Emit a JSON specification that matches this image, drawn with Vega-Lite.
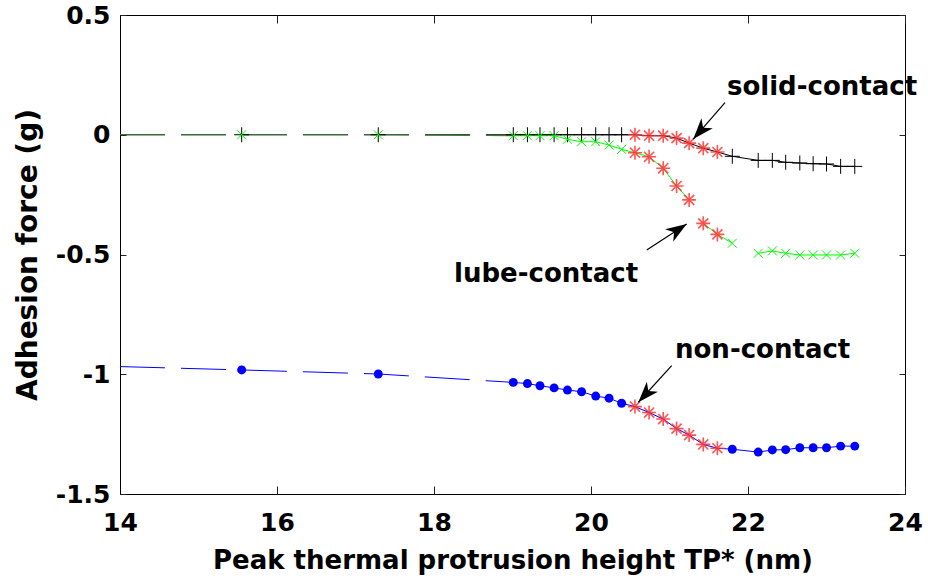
{
  "$schema": "https://vega.github.io/schema/vega-lite/v6.json",
  "width": 785,
  "height": 479,
  "autosize": "none",
  "padding": {"left": 120, "top": 15, "right": 23, "bottom": 87},
  "background": "white",
  "config": {
    "view": {"stroke": "#000000", "strokeWidth": 1},
    "font": "DejaVu Sans",
    "axis": {
      "labelFont": "DejaVu Sans", "labelFontWeight": "bold", "labelColor": "#000000",
      "titleFont": "DejaVu Sans", "titleFontWeight": "bold", "titleColor": "#000000",
      "domainColor": "#000000", "tickColor": "#222222", "grid": false,
      "labelFlush": false, "labelOverlap": false
    }
  },
  "datasets": {
    "pts": [
      {"s": "solid", "x": 15.55, "y": 0, "seg": 0, "m": "mk"},
      {"s": "solid", "x": 17.29, "y": 0, "seg": 0, "m": "mk"},
      {"s": "solid", "x": 19.01, "y": 0, "seg": 1, "m": "mk"},
      {"s": "solid", "x": 19.19, "y": 0, "seg": 1, "m": "mk"},
      {"s": "solid", "x": 19.35, "y": 0, "seg": 1, "m": "mk"},
      {"s": "solid", "x": 19.53, "y": 0, "seg": 1, "m": "mk"},
      {"s": "solid", "x": 19.70, "y": 0, "seg": 1, "m": "mk"},
      {"s": "solid", "x": 19.88, "y": 0, "seg": 1, "m": "mk"},
      {"s": "solid", "x": 20.06, "y": 0, "seg": 1, "m": "mk"},
      {"s": "solid", "x": 20.23, "y": 0, "seg": 1, "m": "mk"},
      {"s": "solid", "x": 20.39, "y": 0, "seg": 1, "m": "mk"},
      {"s": "solid", "x": 20.56, "y": 0, "seg": 1, "m": "star"},
      {"s": "solid", "x": 20.74, "y": -0.004, "seg": 1, "m": "star"},
      {"s": "solid", "x": 20.92, "y": -0.004, "seg": 1, "m": "star"},
      {"s": "solid", "x": 21.09, "y": -0.014, "seg": 1, "m": "star"},
      {"s": "solid", "x": 21.25, "y": -0.035, "seg": 1, "m": "star"},
      {"s": "solid", "x": 21.43, "y": -0.056, "seg": 1, "m": "star"},
      {"s": "solid", "x": 21.61, "y": -0.072, "seg": 1, "m": "star"},
      {"s": "solid", "x": 21.80, "y": -0.090, "seg": 1, "m": "mk"},
      {"s": "solid", "x": 22.13, "y": -0.107, "seg": 1, "m": "mk"},
      {"s": "solid", "x": 22.31, "y": -0.107, "seg": 1, "m": "mk"},
      {"s": "solid", "x": 22.48, "y": -0.115, "seg": 1, "m": "mk"},
      {"s": "solid", "x": 22.66, "y": -0.118, "seg": 1, "m": "mk"},
      {"s": "solid", "x": 22.83, "y": -0.121, "seg": 1, "m": "mk"},
      {"s": "solid", "x": 23.00, "y": -0.122, "seg": 1, "m": "mk"},
      {"s": "solid", "x": 23.18, "y": -0.132, "seg": 1, "m": "mk"},
      {"s": "solid", "x": 23.36, "y": -0.132, "seg": 1, "m": "mk"},
      {"s": "lube", "x": 15.55, "y": 0, "seg": 0, "m": "mk"},
      {"s": "lube", "x": 17.29, "y": 0, "seg": 0, "m": "mk"},
      {"s": "lube", "x": 19.01, "y": -0.004, "seg": 1, "m": "mk"},
      {"s": "lube", "x": 19.19, "y": -0.004, "seg": 1, "m": "mk"},
      {"s": "lube", "x": 19.35, "y": -0.004, "seg": 1, "m": "mk"},
      {"s": "lube", "x": 19.53, "y": -0.004, "seg": 1, "m": "mk"},
      {"s": "lube", "x": 19.70, "y": -0.019, "seg": 1, "m": "mk"},
      {"s": "lube", "x": 19.88, "y": -0.029, "seg": 1, "m": "mk"},
      {"s": "lube", "x": 20.06, "y": -0.029, "seg": 1, "m": "mk"},
      {"s": "lube", "x": 20.23, "y": -0.043, "seg": 1, "m": "mk"},
      {"s": "lube", "x": 20.39, "y": -0.061, "seg": 1, "m": "mk"},
      {"s": "lube", "x": 20.56, "y": -0.075, "seg": 1, "m": "star"},
      {"s": "lube", "x": 20.74, "y": -0.092, "seg": 1, "m": "star"},
      {"s": "lube", "x": 20.92, "y": -0.140, "seg": 1, "m": "star"},
      {"s": "lube", "x": 21.09, "y": -0.214, "seg": 1, "m": "star"},
      {"s": "lube", "x": 21.25, "y": -0.272, "seg": 1, "m": "star"},
      {"s": "lube", "x": 21.43, "y": -0.370, "seg": 2, "m": "star"},
      {"s": "lube", "x": 21.61, "y": -0.416, "seg": 2, "m": "star"},
      {"s": "lube", "x": 21.80, "y": -0.453, "seg": 2, "m": "mk"},
      {"s": "lube", "x": 22.13, "y": -0.495, "seg": 3, "m": "mk"},
      {"s": "lube", "x": 22.31, "y": -0.485, "seg": 3, "m": "mk"},
      {"s": "lube", "x": 22.48, "y": -0.495, "seg": 3, "m": "mk"},
      {"s": "lube", "x": 22.66, "y": -0.502, "seg": 3, "m": "mk"},
      {"s": "lube", "x": 22.83, "y": -0.502, "seg": 3, "m": "mk"},
      {"s": "lube", "x": 23.00, "y": -0.502, "seg": 3, "m": "mk"},
      {"s": "lube", "x": 23.18, "y": -0.502, "seg": 3, "m": "mk"},
      {"s": "lube", "x": 23.36, "y": -0.495, "seg": 3, "m": "mk"},
      {"s": "non", "x": 15.55, "y": -0.982, "seg": 0, "m": "mk"},
      {"s": "non", "x": 17.29, "y": -0.999, "seg": 0, "m": "mk"},
      {"s": "non", "x": 19.01, "y": -1.034, "seg": 1, "m": "mk"},
      {"s": "non", "x": 19.19, "y": -1.039, "seg": 1, "m": "mk"},
      {"s": "non", "x": 19.35, "y": -1.048, "seg": 1, "m": "mk"},
      {"s": "non", "x": 19.53, "y": -1.057, "seg": 1, "m": "mk"},
      {"s": "non", "x": 19.70, "y": -1.066, "seg": 1, "m": "mk"},
      {"s": "non", "x": 19.88, "y": -1.073, "seg": 1, "m": "mk"},
      {"s": "non", "x": 20.06, "y": -1.091, "seg": 1, "m": "mk"},
      {"s": "non", "x": 20.23, "y": -1.100, "seg": 1, "m": "mk"},
      {"s": "non", "x": 20.39, "y": -1.121, "seg": 1, "m": "mk"},
      {"s": "non", "x": 20.56, "y": -1.135, "seg": 1, "m": "star"},
      {"s": "non", "x": 20.74, "y": -1.160, "seg": 1, "m": "star"},
      {"s": "non", "x": 20.92, "y": -1.187, "seg": 1, "m": "star"},
      {"s": "non", "x": 21.09, "y": -1.227, "seg": 1, "m": "star"},
      {"s": "non", "x": 21.25, "y": -1.254, "seg": 1, "m": "star"},
      {"s": "non", "x": 21.43, "y": -1.293, "seg": 1, "m": "star"},
      {"s": "non", "x": 21.61, "y": -1.309, "seg": 1, "m": "star"},
      {"s": "non", "x": 21.80, "y": -1.313, "seg": 1, "m": "mk"},
      {"s": "non", "x": 22.13, "y": -1.325, "seg": 1, "m": "mk"},
      {"s": "non", "x": 22.31, "y": -1.316, "seg": 1, "m": "mk"},
      {"s": "non", "x": 22.48, "y": -1.315, "seg": 1, "m": "mk"},
      {"s": "non", "x": 22.66, "y": -1.307, "seg": 1, "m": "mk"},
      {"s": "non", "x": 22.83, "y": -1.307, "seg": 1, "m": "mk"},
      {"s": "non", "x": 23.00, "y": -1.307, "seg": 1, "m": "mk"},
      {"s": "non", "x": 23.18, "y": -1.300, "seg": 1, "m": "mk"},
      {"s": "non", "x": 23.36, "y": -1.300, "seg": 1, "m": "mk"}
    ],
    "dash": [
      {"s": "solid", "x": 14, "y": 0},
      {"s": "solid", "x": 15.55, "y": 0},
      {"s": "solid", "x": 17.29, "y": 0},
      {"s": "solid", "x": 19.01, "y": 0},
      {"s": "lube", "x": 14, "y": 0},
      {"s": "lube", "x": 15.55, "y": 0},
      {"s": "lube", "x": 17.29, "y": 0},
      {"s": "lube", "x": 19.01, "y": -0.004},
      {"s": "non", "x": 14, "y": -0.968},
      {"s": "non", "x": 15.55, "y": -0.982},
      {"s": "non", "x": 17.29, "y": -0.999},
      {"s": "non", "x": 19.01, "y": -1.034}
    ],
    "arrows": [
      {"x": 21.707, "y": 0.134, "x2": 21.303, "y2": -0.018, "a": 221},
      {"x": 20.710, "y": -0.481, "x2": 21.219, "y2": -0.373, "a": 57},
      {"x": 21.028, "y": -0.964, "x2": 20.603, "y2": -1.117, "a": 222}
    ],
    "labels": [
      {"x": 21.732, "y": 0.166, "t": "solid-contact"},
      {"x": 18.255, "y": -0.6136, "t": "lube-contact"},
      {"x": 21.070, "y": -0.9335, "t": "non-contact"}
    ]
  },
  "layer": [
    {
      "encoding": {
        "x": {
          "field": "x", "type": "quantitative",
          "scale": {"domain": [14, 24], "nice": false, "zero": false},
          "axis": {
            "orient": "bottom", "values": [14, 16, 18, 20, 22, 24],
            "title": "Peak thermal protrusion height TP* (nm)",
            "labelFontSize": 25, "titleFontSize": 26,
            "tickSize": -8, "labelPadding": 24, "titlePadding": 12
          }
        },
        "y": {
          "field": "y", "type": "quantitative",
          "scale": {"domain": [-1.5, 0.5], "nice": false, "zero": false},
          "axis": {
            "orient": "left", "values": [-1.5, -1, -0.5, 0, 0.5],
            "labelExpr": "'' + datum.value",
            "title": "Adhesion force (g)",
            "labelFontSize": 25, "titleFontSize": 28,
            "tickSize": -6, "labelPadding": 16, "titlePadding": 13
          }
        }
      },
      "layer": [
        {
          "data": {"name": "dash"},
          "transform": [{"filter": "datum.s == 'solid'"}],
          "mark": {"type": "line", "strokeWidth": 1.2, "strokeDash": [45, 16], "color": "#000000"}
        },
        {
          "data": {"name": "dash"},
          "transform": [{"filter": "datum.s == 'lube'"}],
          "mark": {"type": "line", "strokeWidth": 1.2, "strokeDash": [45, 16], "color": "#3a7d3a"}
        },
        {
          "data": {"name": "dash"},
          "transform": [{"filter": "datum.s == 'non'"}],
          "mark": {"type": "line", "strokeWidth": 1, "strokeDash": [45, 16], "color": "#0000ff"}
        },
        {
          "data": {"name": "pts"},
          "transform": [{"filter": "datum.seg > 0"}],
          "mark": {"type": "line", "strokeWidth": 1},
          "encoding": {
            "color": {"field": "s", "type": "nominal", "scale": {"domain": ["solid", "lube", "non"], "range": ["#000000", "#00ff00", "#0000ff"]}, "legend": null},
            "detail": {"field": "seg", "type": "nominal"}
          }
        },
        {
          "data": {"name": "pts"},
          "transform": [{"filter": "datum.s == 'solid' && datum.m == 'mk'"}],
          "mark": {"type": "point", "shape": "M-1,0H1M0,-1V1", "filled": false, "color": "#000000", "strokeWidth": 1, "size": 225, "opacity": 1}
        },
        {
          "data": {"name": "pts"},
          "transform": [{"filter": "datum.s == 'lube' && datum.m == 'mk'"}],
          "mark": {"type": "point", "shape": "M-1,-1L1,1M-1,1L1,-1", "filled": false, "color": "#00ff00", "strokeWidth": 1, "size": 81, "opacity": 1}
        },
        {
          "data": {"name": "pts"},
          "transform": [{"filter": "datum.s == 'non' && datum.m == 'mk'"}],
          "mark": {"type": "point", "shape": "circle", "filled": true, "color": "#0000ff", "size": 80, "opacity": 1}
        },
        {
          "data": {"name": "pts"},
          "transform": [{"filter": "datum.m == 'star'"}],
          "mark": {"type": "point", "shape": "M-1,0H1M0,-1V1M-0.72,-0.72L0.72,0.72M-0.72,0.72L0.72,-0.72", "filled": false, "color": "#ff2a2a", "strokeWidth": 1.6, "size": 196, "opacity": 0.8}
        },
        {
          "data": {"name": "arrows"},
          "mark": {"type": "rule", "color": "#000000", "strokeWidth": 1.2},
          "encoding": {
            "x2": {"field": "x2"},
            "y2": {"field": "y2"}
          }
        },
        {
          "data": {"name": "arrows"},
          "mark": {"type": "point", "shape": "M0,0L0.75,2.1L0,1.5L-0.75,2.1Z", "filled": true, "color": "#000000", "size": 400, "opacity": 1},
          "encoding": {
            "x": {"field": "x2", "type": "quantitative"},
            "y": {"field": "y2", "type": "quantitative"},
            "angle": {"field": "a", "type": "quantitative", "scale": null}
          }
        },
        {
          "data": {"name": "labels"},
          "mark": {"type": "text", "align": "left", "baseline": "alphabetic", "font": "DejaVu Sans", "fontWeight": "bold", "fontSize": 26, "color": "#000000"},
          "encoding": {
            "text": {"field": "t", "type": "nominal"}
          }
        }
      ]
    },
    {
      "data": {"name": "labels"},
      "mark": {"type": "point", "opacity": 0},
      "encoding": {
        "x": {
          "field": "x", "type": "quantitative",
          "scale": {"domain": [14, 24], "nice": false, "zero": false},
          "axis": {"orient": "top", "values": [14, 16, 18, 20, 22, 24], "labels": false, "title": null, "tickSize": -8, "domain": false}
        },
        "y": {
          "field": "y", "type": "quantitative",
          "scale": {"domain": [-1.5, 0.5], "nice": false, "zero": false},
          "axis": {"orient": "right", "values": [-1.5, -1, -0.5, 0, 0.5], "labels": false, "title": null, "tickSize": -6, "domain": false}
        }
      }
    }
  ],
  "resolve": {"axis": {"x": "independent", "y": "independent"}}
}
